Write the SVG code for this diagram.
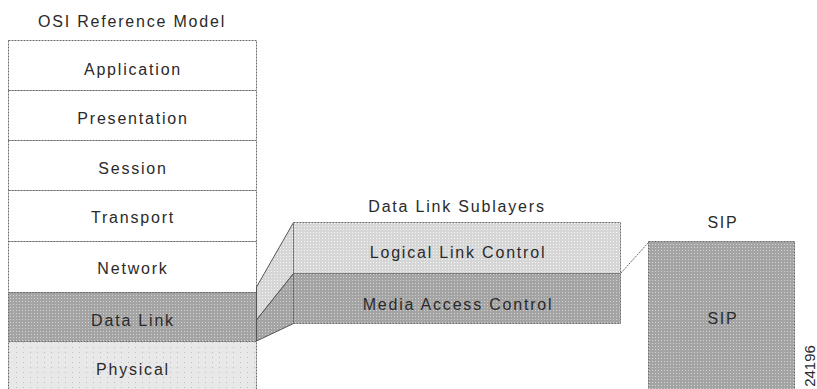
<svg xmlns="http://www.w3.org/2000/svg" width="817" height="389" viewBox="0 0 817 389">
  <defs>
    <!-- stippled fills -->
    <pattern id="dotDark" width="3" height="3" patternUnits="userSpaceOnUse">
      <rect width="3" height="3" fill="#a4a4a4"/>
      <rect x="1" y="1" width="1" height="1" fill="#d2d2d2"/>
    </pattern>
    <pattern id="dotLight" width="3" height="3" patternUnits="userSpaceOnUse">
      <rect width="3" height="3" fill="#d6d6d6"/>
      <rect x="1" y="1" width="1" height="1" fill="#f6f6f6"/>
    </pattern>
    <pattern id="dotSparse" width="7" height="5" patternUnits="userSpaceOnUse">
      <rect width="7" height="5" fill="#e8e8e8"/>
      <rect x="2" y="2" width="1" height="1" fill="#c0c0c0"/>
    </pattern>
  </defs>
  <style>
    .lbl { font-family: "Liberation Sans", Arial, sans-serif; font-size: 16px; fill: #2a2a2a; text-anchor: middle; letter-spacing: 1.8px; }
    .edge { stroke: #6a6a6a; stroke-width: 1; stroke-dasharray: 2 1; }
    .slant { stroke: #555555; stroke-width: 1; }
    .open { fill: #ffffff; }
    .dark { fill: url(#dotDark); }
    .light { fill: url(#dotLight); }
    .sparse { fill: url(#dotSparse); }
  </style>

  <rect width="817" height="389" fill="#ffffff"/>

  <!-- OSI stack -->
  <text class="lbl" x="132" y="27">OSI Reference Model</text>
  <g id="application">
    <rect class="open edge" x="8.5" y="40.5" width="248" height="50"/>
    <text class="lbl" x="133" y="75">Application</text>
  </g>
  <g id="presentation">
    <rect class="open edge" x="8.5" y="90.5" width="248" height="50"/>
    <text class="lbl" x="133" y="124">Presentation</text>
  </g>
  <g id="session">
    <rect class="open edge" x="8.5" y="140.5" width="248" height="50"/>
    <text class="lbl" x="133" y="174">Session</text>
  </g>
  <g id="transport">
    <rect class="open edge" x="8.5" y="190.5" width="248" height="51"/>
    <text class="lbl" x="133" y="223">Transport</text>
  </g>
  <g id="network">
    <rect class="open edge" x="8.5" y="241.5" width="248" height="51"/>
    <text class="lbl" x="133" y="274">Network</text>
  </g>
  <g id="data-link">
    <rect class="dark edge" x="8.5" y="292.5" width="248" height="49"/>
    <text class="lbl" x="133" y="326">Data Link</text>
  </g>
  <g id="physical">
    <rect class="sparse edge" x="8.5" y="341.5" width="248" height="52"/>
    <text class="lbl" x="133" y="375">Physical</text>
  </g>

  <!-- Projection of Data Link into its sublayers -->
  <g id="connectors">
    <polygon class="light slant" points="256.5,287 293.5,222.5 293.5,273.5 256.5,320"/>
    <polygon class="dark slant" points="256.5,320 293.5,273.5 293.5,323.5 256.5,341"/>
    <line class="edge" x1="621" y1="273" x2="648" y2="243" fill="none"/>
  </g>

  <!-- Data Link sublayers -->
  <text class="lbl" x="457" y="212">Data Link Sublayers</text>
  <g id="llc">
    <rect class="light edge" x="293.5" y="222.5" width="327" height="51"/>
    <text class="lbl" x="458" y="258">Logical Link Control</text>
  </g>
  <g id="mac">
    <rect class="dark edge" x="293.5" y="273.5" width="327" height="50"/>
    <text class="lbl" x="458" y="310">Media Access Control</text>
  </g>

  <!-- SIP -->
  <text class="lbl" x="723" y="228">SIP</text>
  <g id="sip">
    <rect class="dark edge" x="648.5" y="241.5" width="146" height="152"/>
    <text class="lbl" x="723" y="324">SIP</text>
  </g>

  <text x="0" y="0" transform="translate(815,366) rotate(-90)" style="font-family: 'Liberation Sans', Arial, sans-serif; font-size: 15px; fill: #2a2a2a; text-anchor: middle;">24196</text>
</svg>
